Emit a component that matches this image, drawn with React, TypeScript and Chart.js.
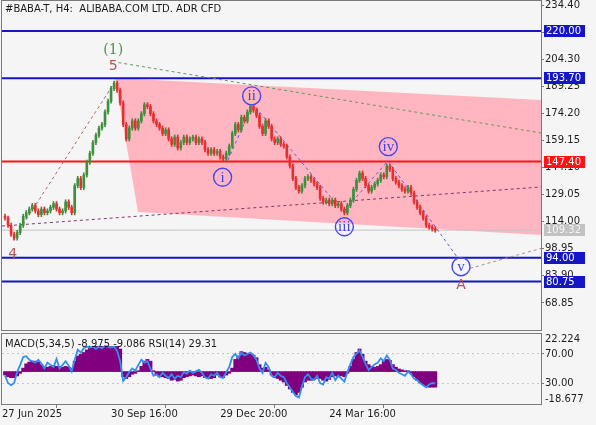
import React, { useEffect, useRef } from 'react';
import { Chart, registerables } from 'chart.js';
Chart.register(...registerables);

const W = 596;
const H = 425;
const BG = '#f5f5f5';
const FONT = 'DejaVu Sans';
const TOP_SHIFT = 20;

// ---- data ----
const firstOpen = 117;
const closes = [
  116, 112, 107, 105, 108, 112, 117, 119, 121, 123,
  120, 118, 121, 119, 120, 122, 124, 121, 119, 120,
  125, 122, 119, 134, 138, 133, 140, 147, 152, 158,
  162, 166, 168, 175, 181, 188, 191, 187, 180, 168,
  160, 166, 170, 166, 170, 174, 179, 178, 174, 170,
  168, 166, 163, 165, 160, 157, 161, 155, 158, 161,
  158, 160, 161, 158, 160, 158, 154, 152, 154, 152,
  153, 150, 149, 152, 156, 163, 168, 165, 172, 170,
  175, 178, 176, 173, 167, 163, 170, 167, 160, 158,
  160, 157, 156, 150, 145, 138, 133, 131, 134, 138,
  139, 137, 135, 133, 127, 125, 126, 124, 126, 123,
  124, 121, 119, 123, 126, 132, 137, 141, 138, 134,
  131, 133, 135, 137, 140, 139, 145, 143, 138, 136,
  134, 132, 131, 133, 130, 125, 122, 119, 116, 112,
  111, 110, 109.32,
];
const macdHist = [
  -2, -3, -3.5, -3.5, -2.5, -1, 2, 4.5, 5.5, 6,
  6, 5.5, 4, 3, 2.5, 3, 3.5, 3, 3, 2.5,
  3, 2.5, 2, 6, 9, 10, 11, 12.5, 13.5, 14,
  14.5, 14.5, 14.5, 14.5, 14.5, 14.5, 14.5, 14.5, 13, -3,
  -4, -3, -1.5, -1, 0.5, 3, 6, 7, 6, 0.5,
  -2, -3, -3, -3.5, -4, -5, -4.5, -5.5, -5, -3.5,
  -3, -2.5, -2, -2.5, -3, -2.5, -3.5, -4, -4, -3.5,
  -2, -3, -3.5, -2, -1, 2, 7, 9, 11.5, 11,
  10.5, 10, 9.5, 8, 4, 2, 2.5, 1, -2, -3.5,
  -4, -5, -6, -8, -10, -12, -13.5, -12, -9, -6,
  -5, -5, -4.5, -4, -4, -5, -5.5, -4.5, -3, -2.5,
  -3, -2.5, -3, -1, 3, 7, 11, 13, 10, 6,
  4, 3, 2.5, 3, 4, 6, 7, 6.5, 4, 2.5,
  1.5, 1, 0.5, 0.5, -1, -3, -5, -6.5, -7.5, -8.5,
  -9, -9, -8.975,
];
const rsiValues = [
  40, 30, 27, 30, 45, 55, 66, 67, 62, 60,
  58, 62, 57, 50, 58, 55, 52, 63, 50, 55,
  60, 54, 46, 62, 76, 72, 78, 80, 79, 80,
  77, 80, 78, 81, 80, 79, 80, 74, 60, 33,
  38, 45, 50, 47, 55, 62, 58, 60, 50, 40,
  42, 38, 44, 40, 37, 42, 36, 40, 38, 45,
  43, 47, 44, 46, 48, 44, 38, 36, 42, 40,
  44, 38, 37, 45, 52, 66, 70, 64, 72, 68,
  70, 72, 68, 62, 50, 44, 58, 52, 40, 38,
  44, 40, 38, 30, 24, 18, 12, 10, 25, 38,
  42, 36, 34, 40, 30, 28, 38, 36, 44, 34,
  40, 36, 32, 45, 56, 66, 70, 75, 66, 56,
  48, 52, 56, 58, 64, 60, 68, 62, 50, 48,
  44, 42, 40, 46, 42, 36, 34, 30, 27, 24,
  28, 30, 29.31,
];

const priceTicks = [234.4, 219.35, 204.3, 189.25, 174.2, 159.15, 144.1, 129.05, 114.0, 98.95, 83.9, 68.85];
const levelValues = [220.0, 193.7, 147.4, 94.0, 80.75];
const levelColors = ['#1515c8', '#1515c8', '#ff1414', '#1515c8', '#1515c8'];
const lastPrice = 109.32;

const xTickValues = [-1, 35, 71, 107];
const xTickLabels = ['27 Jun 2025', '30 Sep 16:00', '29 Dec 20:00', '24 Mar 16:00'];
const subTickValues = [90.7, 70, 30, 7.95];
const subTickLabels = ['22.224', '70.00', '30.00', '-18.677'];

// pink channel polygon (bar index, price)
const channelX = [36.3, 176.9, 176.9, 43.9];
const channelY = [193.8, 181.6, 106.6, 119.4];

// dashed trend lines
const greenLineX = [37.4, 176.9];
const greenLineY = [202.4, 163.3];
const purpleLineX = [-1, 176.9];
const purpleLineY = [111.6, 133.3];
const brownLineX = [2.7, 36.3];
const brownLineY = [103.9, 191.8];
const waveLineX = [73.6, 81.8, 111.6, 126.4, 149.2];
const waveLineY = [148.3, 179.4, 119.4, 147.8, 94.4];
const tailLineX = [153.5, 176.9];
const tailLineY = [88.1, 99.2];

// wave labels
const plainLabels = ['(1)', '5', '4', 'A'];
const plainLabelX = [35.7, 35.7, 2.5, 150.5];
const plainLabelY = [209.0, 200.1, 96.1, 78.8];
const plainLabelColors = ['#4f8f4f', '#b35555', '#b35555', '#b35555'];
const circleLabels = ['i', 'ii', 'iii', 'iv', 'v'];
const circleX = [71.8, 81.4, 112, 126.5, 150.5];
const circleY = [138.7, 183.9, 111.2, 155.7, 89.0];

const X_MIN = -1;
const X_MAX = 176.9;
const Y_MIN = 53.29;
const Y_MAX = 237.18;

const UP = '#3f8f3f';
const DOWN = '#e33030';

function mainConfig(): any {
  const opens = closes.map((c, i) => (i === 0 ? firstOpen : closes[i - 1]));
  const wickData = closes.map((c, i) => ({
    x: i,
    y: [Math.min(opens[i], c) - 1.2, Math.max(opens[i], c) + 1.2],
  }));
  const bodyData = closes.map((c, i) => ({ x: i, y: [opens[i], c] }));
  const colors = closes.map((c, i) => (c >= opens[i] ? UP : DOWN));

  const lineDs = (xs: number[], ys: number[], color: string, dash: number[], width: number, order: number) => ({
    type: 'line',
    data: xs.map((x, i) => ({ x, y: ys[i] })),
    borderColor: color,
    borderWidth: width,
    borderDash: dash,
    pointRadius: 0,
    tension: 0,
    fill: false,
    order,
  });

  const datasets: any[] = [
    {
      type: 'line',
      data: channelX.map((x, i) => ({ x, y: channelY[i] })),
      borderColor: 'rgba(0,0,0,0)',
      borderWidth: 0,
      backgroundColor: '#ffb6c1',
      fill: 'shape',
      pointRadius: 0,
      tension: 0,
      order: 30,
    },
    lineDs([X_MIN, X_MAX], [lastPrice, lastPrice], '#c4c4c4', [], 1, 25),
    ...levelValues.map((v, i) => lineDs([X_MIN, X_MAX], [v, v], levelColors[i], [], 2, 20)),
    lineDs(greenLineX, greenLineY, '#5c9a5c', [3, 3], 1, 15),
    lineDs(purpleLineX, purpleLineY, '#7a3a72', [3, 3], 1, 15),
    lineDs(brownLineX, brownLineY, '#b86262', [3, 3], 1, 15),
    lineDs(waveLineX, waveLineY, '#5a5ae6', [3, 3], 1, 15),
    lineDs(tailLineX, tailLineY, '#b08a8a', [3, 3], 1, 15),
    {
      type: 'bar',
      data: wickData,
      backgroundColor: colors,
      barThickness: 1,
      grouped: false,
      order: 6,
    },
    {
      type: 'bar',
      data: bodyData,
      backgroundColor: colors,
      barThickness: 2,
      minBarLength: 1,
      grouped: false,
      order: 5,
    },
    {
      type: 'line',
      data: circleX.map((x, i) => ({ x, y: circleY[i] })),
      showLine: false,
      pointRadius: 9,
      pointBorderWidth: 1.4,
      pointBorderColor: '#4646ee',
      pointBackgroundColor: 'rgba(0,0,0,0)',
      order: 1,
    },
  ];

  const decor = {
    id: 'mainDecor',
    afterDatasetsDraw(chart: any) {
      const { ctx, scales } = chart;
      const xs = scales.x;
      const ys = scales.y;
      ctx.save();
      ctx.textAlign = 'center';
      ctx.textBaseline = 'middle';
      plainLabels.forEach((t, i) => {
        ctx.font = i === 0 ? '14px "DejaVu Serif"' : '14px "DejaVu Sans"';
        ctx.fillStyle = plainLabelColors[i];
        ctx.fillText(t, xs.getPixelForValue(plainLabelX[i]), ys.getPixelForValue(plainLabelY[i]));
      });
      ctx.font = '15px "Liberation Serif"';
      ctx.fillStyle = '#4040ee';
      circleLabels.forEach((t, i) => {
        ctx.fillText(t, xs.getPixelForValue(circleX[i]), ys.getPixelForValue(circleY[i]) + 0.5);
      });
      ctx.restore();
    },
    afterDraw(chart: any) {
      const { ctx, chartArea, scales } = chart;
      const ys = scales.y;
      ctx.save();
      ctx.strokeStyle = '#7a7a7a';
      ctx.lineWidth = 1;
      ctx.strokeRect(chartArea.left - 0.5, chartArea.top + 0.5, chartArea.right - chartArea.left + 1, chartArea.bottom - chartArea.top - 1);
      ctx.font = `10px "${FONT}"`;
      ctx.fillStyle = '#1a1a1a';
      ctx.textAlign = 'left';
      ctx.textBaseline = 'middle';
      ctx.fillText('#BABA-T, H4:  ALIBABA.COM LTD. ADR CFD', 5, chartArea.top + 9);
      const boxes = levelValues.map((v, i) => ({ v, bg: levelColors[i], fg: '#ffffff' }));
      boxes.push({ v: lastPrice, bg: '#c2c2c2', fg: '#f4f4f4' });
      boxes.forEach((b) => {
        const y = Math.round(ys.getPixelForValue(b.v));
        ctx.fillStyle = b.bg;
        ctx.fillRect(chartArea.right + 3, y - 6, 41, 12);
        ctx.fillStyle = b.fg;
        ctx.fillText(b.v.toFixed(2), chartArea.right + 5, y + 0.5);
      });
      ctx.restore();
    },
  };

  return {
    type: 'bar',
    data: { datasets },
    options: {
      responsive: false,
      animation: false,
      devicePixelRatio: 1,
      events: [],
      layout: { autoPadding: false, padding: { left: 2, top: TOP_SHIFT, right: 0, bottom: H - 331 } },
      plugins: { legend: { display: false }, tooltip: { enabled: false } },
      scales: {
        x: { type: 'linear', display: false, min: X_MIN, max: X_MAX, offset: false },
        y: {
          position: 'right',
          min: Y_MIN,
          max: Y_MAX,
          afterFit(s: any) { s.width = W - 541; },
          afterBuildTicks(s: any) { s.ticks = priceTicks.map((v) => ({ value: v })); },
          ticks: {
            autoSkip: false,
            padding: 1,
            color: '#1e1e1e',
            font: { family: FONT, size: 10 },
            callback: (v: any) => Number(v).toFixed(2),
          },
          grid: { drawOnChartArea: false, tickLength: 3, color: '#7a7a7a' },
          border: { display: false },
        },
      },
    },
    plugins: [decor],
  };
}

function subConfig(): any {
  const decor = {
    id: 'subDecor',
    afterDraw(chart: any) {
      const { ctx, chartArea } = chart;
      ctx.save();
      ctx.strokeStyle = '#7a7a7a';
      ctx.lineWidth = 1;
      ctx.strokeRect(chartArea.left - 0.5, chartArea.top + 0.5, chartArea.right - chartArea.left + 1, chartArea.bottom - chartArea.top);
      ctx.font = `10px "${FONT}"`;
      ctx.fillStyle = '#1a1a1a';
      ctx.textAlign = 'left';
      ctx.textBaseline = 'middle';
      ctx.fillText('MACD(5,34,5) -8.975 -9.086 RSI(14) 29.31', 5, chartArea.top + 11);
      ctx.restore();
    },
  };
  return {
    type: 'bar',
    data: {
      datasets: [
        {
          type: 'line',
          yAxisID: 'yr',
          data: rsiValues.map((v, i) => ({ x: i, y: v })),
          borderColor: '#2f8ff2',
          borderWidth: 1.8,
          pointRadius: 0,
          tension: 0,
          order: 1,
        },
        {
          type: 'bar',
          yAxisID: 'ym',
          data: macdHist.map((v, i) => ({ x: i, y: v })),
          backgroundColor: '#800080',
          barThickness: 3.2,
          order: 3,
        },
      ],
    },
    options: {
      responsive: false,
      animation: false,
      devicePixelRatio: 1,
      events: [],
      layout: { autoPadding: false, padding: { left: 2, top: 333, right: 0, bottom: 0 } },
      plugins: { legend: { display: false }, tooltip: { enabled: false } },
      scales: {
        x: {
          type: 'linear',
          min: X_MIN,
          max: X_MAX,
          offset: false,
          afterFit(s: any) { s.height = H - 404; },
          afterBuildTicks(s: any) { s.ticks = xTickValues.map((v) => ({ value: v })); },
          ticks: {
            autoSkip: false,
            maxRotation: 0,
            align: 'start',
            padding: 0,
            color: '#1e1e1e',
            font: { family: FONT, size: 10 },
            callback: (v: any) => xTickLabels[xTickValues.indexOf(Number(v))] ?? '',
          },
          grid: { drawOnChartArea: false, tickLength: 4, color: '#7a7a7a' },
          border: { display: false },
        },
        ym: { display: false, min: -18.677, max: 22.224 },
        yr: {
          position: 'right',
          min: 1.05,
          max: 98.95,
          afterFit(s: any) { s.width = W - 541; },
          afterBuildTicks(s: any) { s.ticks = subTickValues.map((v) => ({ value: v })); },
          ticks: {
            autoSkip: false,
            padding: 1,
            color: '#1e1e1e',
            font: { family: FONT, size: 10 },
            callback: (v: any) => subTickLabels[subTickValues.indexOf(Number(v))] ?? '',
          },
          grid: {
            drawOnChartArea: true,
            tickLength: 3,
            color: (c: any) => (c.tick && (c.tick.value === 70 || c.tick.value === 30) ? '#c8c8c8' : 'rgba(0,0,0,0)'),
            tickColor: (c: any) => (c.tick && (c.tick.value === 70 || c.tick.value === 30) ? '#7a7a7a' : 'rgba(0,0,0,0)'),
          },
          border: { display: false, dash: [2, 3] },
        },
      },
    },
    plugins: [decor],
  };
}

export default function App() {
  const mainRef = useRef<HTMLCanvasElement>(null);
  const subRef = useRef<HTMLCanvasElement>(null);
  useEffect(() => {
    Chart.defaults.font.family = FONT;
    const c1 = new Chart(mainRef.current as HTMLCanvasElement, mainConfig());
    const c2 = new Chart(subRef.current as HTMLCanvasElement, subConfig());
    return () => {
      c1.destroy();
      c2.destroy();
    };
  }, []);
  return (
    <div style={{ position: 'fixed', left: 0, top: 0, width: W, height: H, background: BG, overflow: 'hidden' }}>
      <canvas
        ref={mainRef}
        width={W}
        height={H + TOP_SHIFT}
        style={{ position: 'absolute', left: 0, top: -TOP_SHIFT, width: W, height: H + TOP_SHIFT }}
      />
      <canvas ref={subRef} width={W} height={H} style={{ position: 'absolute', left: 0, top: 0, width: W, height: H }} />
    </div>
  );
}
